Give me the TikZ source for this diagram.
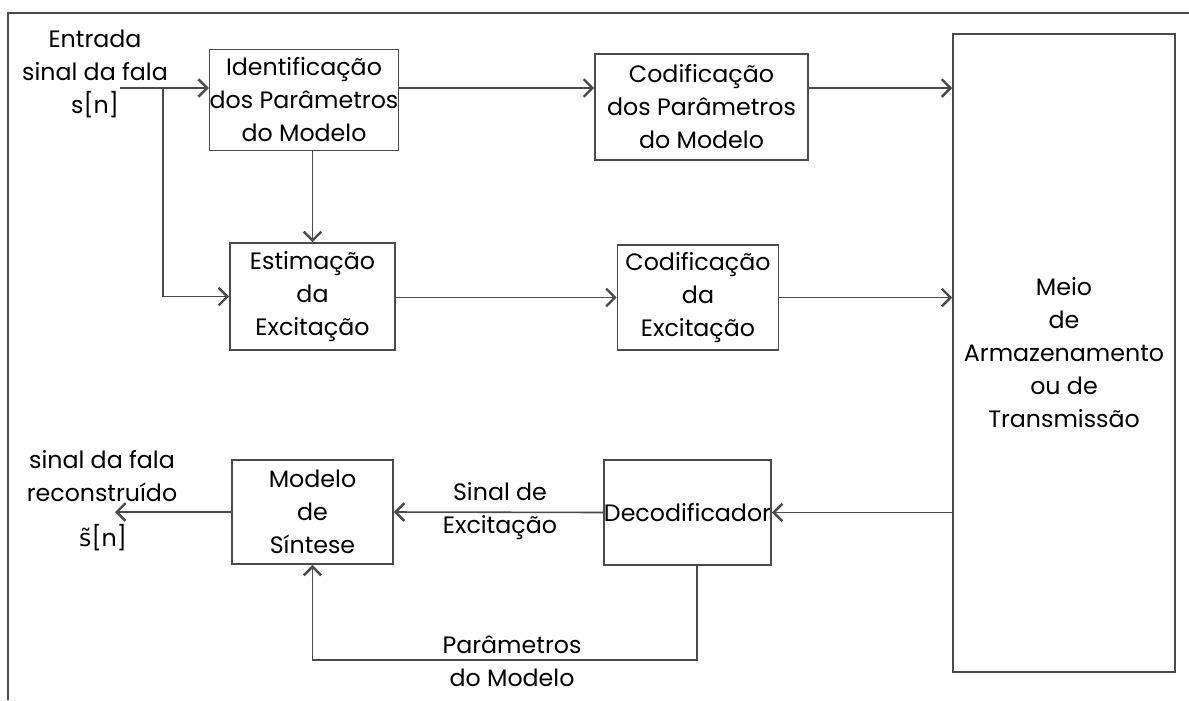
\documentclass[tikz,border=0pt]{standalone}
\usepackage{fontspec}
\setmainfont{Poppins}
\newfontfamily\djvfont{DejaVu Sans}
\usetikzlibrary{arrows.meta,positioning}

\tikzset{
    blk/.style={draw=linecol, line width=0.9pt, align=center, inner sep=0pt},
    conn/.style={draw=linecol, line width=0.9pt, -{Straight Barb[length=5pt,width=10pt,line width=1.4pt]}},
    lbl/.style={align=center, inner sep=0pt}
}
\definecolor{linecol}{HTML}{4A4A4A}

\begin{document}
\begin{tikzpicture}[x=0.02cm, y=-0.02cm, font=\fontsize{13.5}{18.8}\selectfont]
    \useasboundingbox (0,0) rectangle (1189,700);
    % moldura externa (cortada na imagem)
    \draw[linecol, line width=0.9pt] (8,700) -- (8,13) -- (1189,13);

    % blocos
    \node[blk, minimum width=3.44cm, minimum height=2.02cm] (ident) at (304,100)
        {Identificação\\dos Parâmetros\\do Modelo};
    \node[blk, minimum width=4.26cm, minimum height=2.12cm] (codpar) at (701.5,107)
        {Codificação\\dos Parâmetros\\do Modelo};
    \node[blk, minimum width=4.44cm, minimum height=12.76cm] (meio) at (1064,353)
        {Meio\\de\\Armazenamento\\ou de\\Transmissão};
    \node[blk, minimum width=3.30cm, minimum height=2.14cm] (estim) at (312.5,296.5)
        {Estimação\\da\\Excitação};
    \node[blk, minimum width=3.22cm, minimum height=2.10cm] (codexc) at (698,297.5)
        {Codificação\\da\\Excitação};
    \node[blk, minimum width=3.30cm, minimum height=2.10cm] (decod) at (687.5,512.5)
        {Decodificador};
    \node[blk, minimum width=3.22cm, minimum height=2.08cm] (sint) at (312.5,512)
        {Modelo\\de\\Síntese};

    % textos de entrada e saida
    \node[lbl] (entrada) at (95,74) {Entrada\\sinal da fala\\s[n]};
    \node[lbl] (saida) at (102,476) {sinal da fala\\reconstruído};
    \node[lbl, anchor=north] (shat) at (103,524) {{\djvfont s̃}[n]};
    \node[lbl] (excit) at (500,511) {Sinal de\\Excitação};
    \node[lbl] (param) at (512,661) {Parâmetros\\do Modelo};

    \coordinate (in) at (120,88);
    \coordinate (br) at (163,88);
    \coordinate (out) at (115,512);
    \coordinate (fb) at (697,660);

    % ligacoes
    \draw[conn] (in) -- (in -| ident.west);
    \draw[conn] (br) |- (estim.west);
    \draw[conn] (ident.east |- in) -- (codpar.west |- in);
    \draw[conn] (codpar.east |- in) -- (meio.west |- in);
    \draw[conn] (ident.south -| estim.north) -- (estim.north);
    \draw[conn] (estim.east |- codexc.west) -- (codexc.west);
    \draw[conn] (codexc.east) -- (meio.west |- codexc.east);
    \draw[conn] (meio.west |- decod.east) -- (decod.east);
    \draw[conn] (decod.west) -- (sint.east);
    \draw[conn] (sint.west) -- (out);
    \draw[conn] (decod.south -| fb) -- (fb) -| (sint.south);
\end{tikzpicture}
\end{document}
